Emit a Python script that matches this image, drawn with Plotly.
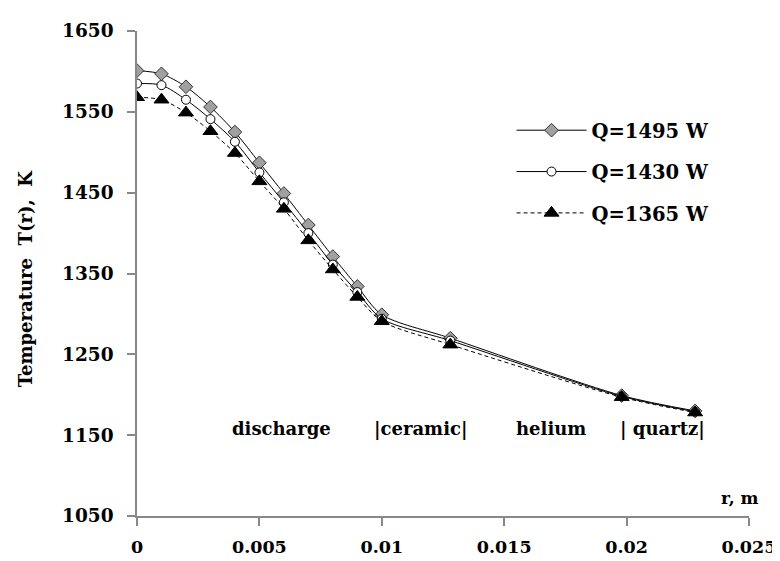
import plotly.graph_objects as go

r = [0.0, 0.001, 0.002, 0.003, 0.004, 0.005, 0.006, 0.007, 0.008, 0.009, 0.010, 0.0128, 0.0198, 0.0228]
T_1495 = [1601, 1597, 1581, 1556, 1525, 1487, 1449, 1410, 1371, 1334, 1299, 1270, 1199, 1180]
T_1430 = [1585, 1583, 1565, 1541, 1513, 1475, 1438, 1400, 1361, 1327, 1294, 1267, 1198, 1179]
T_1365 = [1568, 1565, 1549, 1526, 1499, 1464, 1430, 1391, 1355, 1321, 1291, 1262, 1197, 1178]
series_names = ["Q=1495 W", "Q=1430 W", "Q=1365 W"]
x_ticks = [0, 0.005, 0.01, 0.015, 0.02, 0.025]
x_ticklabels = ["0", "0.005", "0.01", "0.015", "0.02", "0.025"]
y_ticks = [1050, 1150, 1250, 1350, 1450, 1550, 1650]
region_labels = ["discharge", "|ceramic|", "helium", "| quartz|"]
region_x = [0.0059, 0.0116, 0.0169, 0.02145]

FONT = "DejaVu Serif, Liberation Serif, serif"

fig = go.Figure()
fig.add_trace(go.Scatter(
    x=r, y=T_1495, name=series_names[0], mode="lines+markers", legendgroup="a",
    line=dict(color="black", width=1, shape="spline", smoothing=0.8),
    marker=dict(symbol="diamond", size=10.5, color="#a0a0a0", line=dict(color="#333333", width=1)),
))
fig.add_trace(go.Scatter(
    x=r, y=T_1430, name=series_names[1], mode="lines+markers", legendgroup="b",
    line=dict(color="black", width=1, shape="spline", smoothing=0.8),
    marker=dict(symbol="circle", size=9, color="white", line=dict(color="black", width=1)),
))
fig.add_trace(go.Scatter(
    x=r, y=T_1365, name=series_names[2], mode="lines+markers", legendgroup="c",
    line=dict(color="black", width=1, dash="4px,3px", shape="spline", smoothing=0.8),
    marker=dict(symbol="triangle-up", size=13, color="black", line=dict(color="black", width=1)),
))

for lab, xv in zip(region_labels, region_x):
    fig.add_annotation(x=xv, y=1158, text=lab, showarrow=False, xanchor="center", yanchor="middle",
                       font=dict(family=FONT, size=18, color="black", weight="bold"))

fig.add_annotation(x=0.025, y=1050, text="r, m", showarrow=False, xanchor="right", yanchor="bottom",
                   xshift=12, yshift=6, font=dict(family=FONT, size=17, color="black", weight="bold"))

fig.add_annotation(xref="paper", yref="paper", x=0, y=0.49, xshift=-112, text="Temperature\u00a0 T(r),\u00a0 K",
                   textangle=-90, showarrow=False, xanchor="center", yanchor="middle",
                   font=dict(family=FONT, size=18, color="black", weight="bold"))

fig.update_layout(
    width=780, height=561,
    margin=dict(l=129, r=33, t=20, b=50),
    paper_bgcolor="white", plot_bgcolor="white",
    showlegend=True,
    legend=dict(x=0.612, y=0.835, xanchor="left", yanchor="top", bgcolor="rgba(0,0,0,0)",
                itemwidth=70, tracegroupgap=13,
                font=dict(family=FONT, size=19.5, color="black", weight="bold")),
    font=dict(family=FONT, color="black"),
)
fig.update_xaxes(range=[0, 0.025], tickvals=x_ticks, ticktext=x_ticklabels, showgrid=False, zeroline=False,
                 showline=True, linecolor="#888888", linewidth=1.5, ticks="outside", ticklen=8,
                 tickcolor="#888888", tickwidth=1.5, ticklabelstandoff=6,
                 tickfont=dict(family=FONT, size=17.5, color="black", weight="bold"))
fig.update_yaxes(range=[1050, 1650], tickvals=y_ticks, showgrid=False, zeroline=False,
                 showline=True, linecolor="#888888", linewidth=1.5, ticks="outside", ticklen=8,
                 tickcolor="#888888", tickwidth=1.5, ticklabelstandoff=10,
                 tickfont=dict(family=FONT, size=18.5, color="black", weight="bold"))

fig.write_html("out.html")
